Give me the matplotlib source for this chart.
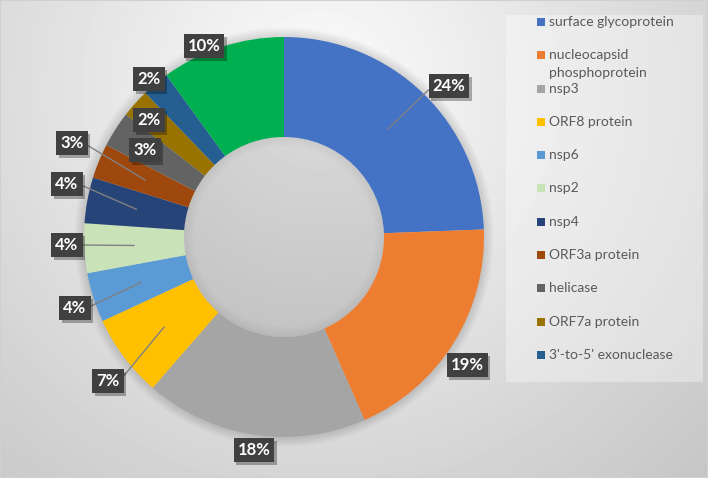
import numpy as np
import matplotlib
matplotlib.use("Agg")
from matplotlib import pyplot as plt
from matplotlib.patches import Rectangle, Circle, Wedge
from matplotlib import patheffects as pe

plt.rcParams['font.family'] = ['Lato', 'DejaVu Sans']

proteins = ['surface glycoprotein', 'nucleocapsid\nphosphoprotein', 'nsp3', 'ORF8 protein',
            'nsp6', 'nsp2', 'nsp4', 'ORF3a protein', 'helicase', 'ORF7a protein',
            "3'-to-5' exonuclease", 'other']
shares = [24.4, 19.0, 18.0, 6.7, 4.0, 4.0, 3.7, 2.8, 2.9, 2.3, 2.2, 10.0]
colors = ['#4472C4', '#ED7D31', '#A5A5A5', '#FFC000', '#5B9BD5', '#C9E2B8',
          '#264478', '#9E480E', '#636363', '#997300', '#255E91', '#00B050']

# where the data labels sit (pixels, like Excel had them) and which have leader lines
label_px = [(449, 86), (467, 365), (254, 450), (108, 381), (75, 308), (67, 245),
            (67, 184), (72, 143), (145, 150), (149, 120), (149, 79), (204, 46)]
has_leader = [True, False, False, True, True, True, True, True, False, False, False, False]

W, H = 708, 478
cx, cy, R = 284, 237, 200   # donut centre and radius in pixels

fig = plt.figure(figsize=(W / 100, H / 100), dpi=100)

# grey radial background
bg = fig.add_axes([0, 0, 1, 1], zorder=0)
yy, xx = np.mgrid[0:H, 0:W]
d = np.hypot(xx - 320, yy - 90)
grad = np.clip(252 - 0.1 * d, 188, 252)
bg.imshow(grad, cmap='gray', vmin=0, vmax=255, extent=(0, W, H, 0), aspect='auto')
bg.axis('off')

ax = fig.add_axes([0, 0, 1, 1], zorder=1)
ax.set_facecolor('none')

# soft shadow round the ring, and a faint one inside the hole
for k in range(1, 9):
    ax.add_patch(Circle((0, 0), 1 + 0.006 * k, fc='black', ec='none', alpha=0.014, zorder=0))
for k in range(1, 7):
    ax.add_patch(Wedge((0, 0), 0.5, 0, 360, width=0.008 * k, fc='black', ec='none',
                       alpha=0.008, zorder=0))

wedges, _ = ax.pie(shares, colors=colors, startangle=90, counterclock=False, radius=1,
                   wedgeprops=dict(width=0.5, edgecolor='none', linewidth=0))

shadow = [pe.SimplePatchShadow(offset=(2, -2), shadow_rgbFace='black', alpha=0.3), pe.Normal()]

for w, val, (px, py), lead in zip(wedges, shares, label_px, has_leader):
    tx, ty = (px - cx) / R, (cy - py) / R
    txt = f"{val:.0f}%"
    bbox = dict(boxstyle='square,pad=0.24', fc='#404040', ec='none')
    if lead:
        mid = np.radians((w.theta1 + w.theta2) / 2)
        ax_, ay_ = 0.75 * np.cos(mid), 0.75 * np.sin(mid)
        rel = (0, 0.5) if ax_ < tx else (1, 0.5)
        t = ax.annotate(txt, xy=(ax_, ay_), xytext=(tx, ty), ha='center', va='center',
                        fontsize=12, fontweight='bold', color='white', bbox=bbox, zorder=5,
                        arrowprops=dict(arrowstyle='-', color='#808080', lw=1,
                                        shrinkA=0, shrinkB=0, relpos=rel))
    else:
        t = ax.text(tx, ty, txt, ha='center', va='center', fontsize=12, fontweight='bold',
                    color='white', bbox=bbox, zorder=5)
    t.get_bbox_patch().set_path_effects(shadow)

ax.set_xlim(-cx / R, (W - cx) / R)
ax.set_ylim(-(H - cy) / R, cy / R)
ax.set_aspect('auto')
ax.axis('off')

# legend panel, drawn by hand to keep Excel's spacing
fig.patches.append(Rectangle((506 / W, 1 - 382 / H), 197 / W, 367 / H, transform=fig.transFigure,
                             fc='white', ec='none', alpha=0.35, zorder=2))
for i, (name, col) in enumerate(zip(proteins[:-1], colors[:-1])):
    y = 22 + i * 33.3
    fig.patches.append(Rectangle((537 / W, 1 - (y + 4) / H), 8 / W, 8 / H,
                                 transform=fig.transFigure, fc=col, ec='none', zorder=3))
    for j, line in enumerate(name.split('\n')):
        fig.text(549 / W, 1 - (y + j * 18) / H, line, ha='left', va='center',
                 fontsize=10, color='#595959', zorder=3)

# thin frame round the chart
fig.patches.append(Rectangle((0, 0), 1, 1, transform=fig.transFigure, fill=False,
                             ec='#d0d0d0', lw=1.5, zorder=6))

fig.savefig('out.png', dpi=100)
